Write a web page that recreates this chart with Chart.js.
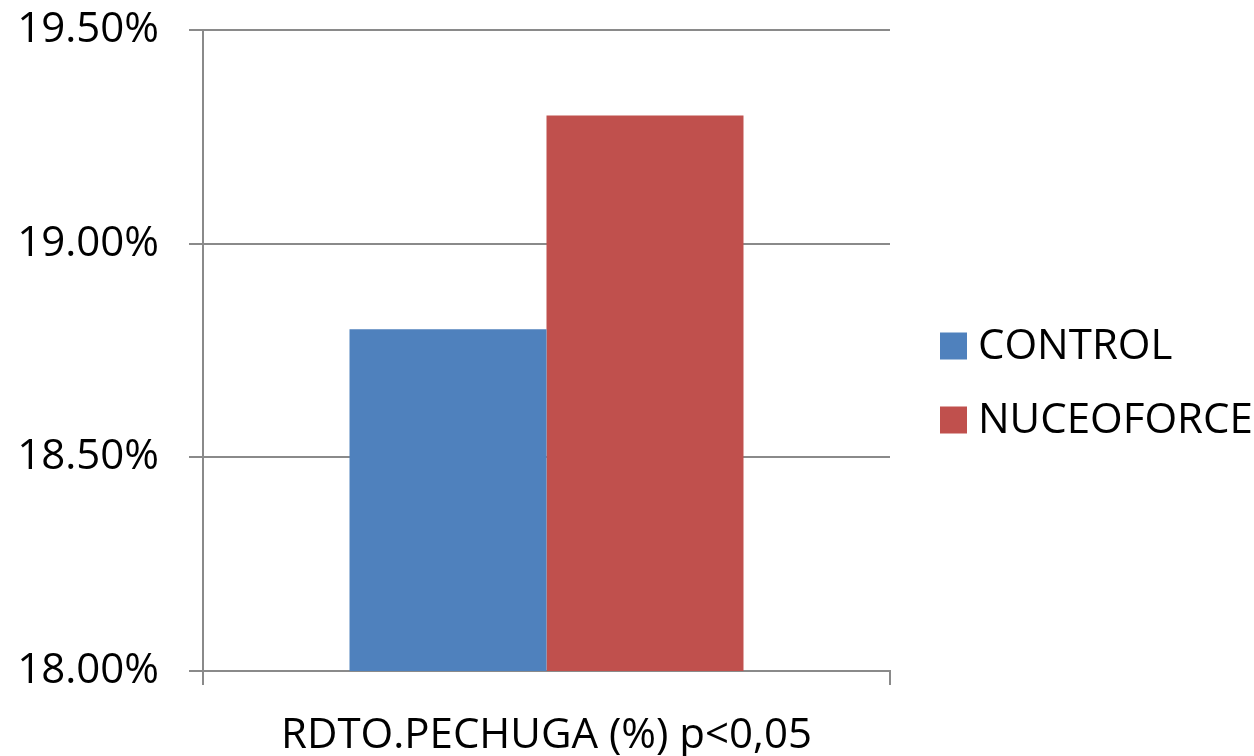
<!DOCTYPE html>
<html>
<head>
<meta charset="utf-8">
<script src="https://cdn.jsdelivr.net/npm/chart.js@4/dist/chart.umd.min.js"></script>
<style>
  html, body { margin: 0; padding: 0; background: #fff; }
  #wrap { width: 1254px; height: 756px; }
</style>
</head>
<body>
<div id="wrap"><canvas id="chart" width="1254" height="756"></canvas></div>
<script>
  const categories = ["RDTO.PECHUGA (%) p<0,05"];
  const seriesNames = ["CONTROL", "NUCEOFORCE"];
  const controlValues = [18.80];
  const nuceoforceValues = [19.30];
  const yTicks = [18.0, 18.5, 19.0, 19.5];

  const colors = ["#4F81BD", "#C0504D"];
  const gridColor = "#8a8a8a";
  const fontFamily = "'Open Sans', 'Liberation Sans', sans-serif";
  const fontSize = 42;

  // legend drawn to the right of the plot area, one row per series
  const sideLegend = {
    id: "sideLegend",
    afterDraw(chart) {
      const { ctx, chartArea } = chart;
      const box = 27;
      const x = chartArea.right + 50;
      let y = chartArea.top + 316;
      ctx.save();
      ctx.font = fontSize + "px " + fontFamily;
      ctx.textBaseline = "middle";
      chart.data.datasets.forEach((ds) => {
        ctx.fillStyle = ds.backgroundColor;
        ctx.fillRect(x, y - box / 2, box, box);
        ctx.fillStyle = "#000";
        ctx.fillText(ds.label, x + 38, y + 1);
        y += 74;
      });
      ctx.restore();
    },
  };

  new Chart(document.getElementById("chart"), {
    type: "bar",
    data: {
      labels: categories,
      datasets: [
        { label: seriesNames[0], data: controlValues, backgroundColor: colors[0] },
        { label: seriesNames[1], data: nuceoforceValues, backgroundColor: colors[1] },
      ],
    },
    options: {
      responsive: false,
      animation: false,
      categoryPercentage: 0.5735,
      barPercentage: 1,
      layout: { padding: { top: 30, right: 364, left: 0, bottom: 0 } },
      plugins: { legend: { display: false }, tooltip: { enabled: false } },
      scales: {
        x: {
          grid: { offset: true, drawOnChartArea: false, drawTicks: true, tickLength: 14, color: gridColor, lineWidth: 2 },
          border: { color: gridColor, width: 2 },
          ticks: { color: "#000", padding: 26, font: { family: fontFamily, size: fontSize } },
          afterFit(scale) { scale.height = 85; },
        },
        y: {
          min: yTicks[0],
          max: yTicks[yTicks.length - 1],
          afterBuildTicks(scale) { scale.ticks = yTicks.map((v) => ({ value: v })); },
          grid: { color: gridColor, lineWidth: 2, tickLength: 14 },
          border: { color: gridColor, width: 2 },
          ticks: {
            color: "#000",
            padding: 30,
            font: { family: fontFamily, size: fontSize },
            callback: (v) => v.toFixed(2) + "%",
          },
          afterFit(scale) {
            scale.width = 203;
            scale.paddingTop = 0;
            scale.paddingBottom = 0;
          },
        },
      },
    },
    plugins: [sideLegend],
  });
</script>
</body>
</html>
